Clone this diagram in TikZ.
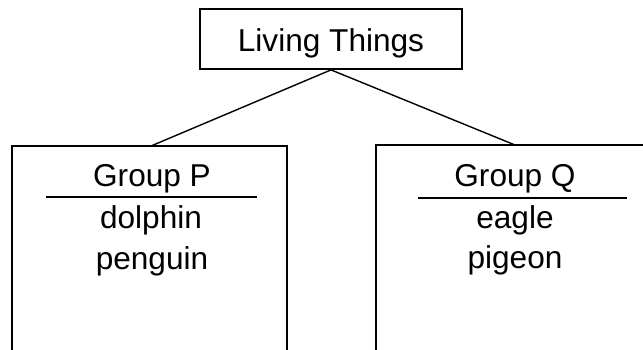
\documentclass[tikz,border=0pt]{standalone}
\usepackage{fontspec}
\setmainfont{Liberation Sans}
\begin{document}
\begin{tikzpicture}[x=1pt,y=-1pt,
  boxframe/.style={draw=black,line width=1.8pt,inner sep=0pt},
  label/.style={anchor=base,inner sep=0pt,font=\fontsize{31.6}{38}\selectfont},
  conn/.style={draw=black,line width=1.4pt},
  rule/.style={draw=black,line width=1.4pt}]
\useasboundingbox (0,0) rectangle (643,350);
% boxes
\node[boxframe,minimum width=262pt,minimum height=60pt] (top) at (331,39) {};
\node[boxframe,minimum width=275pt,minimum height=224pt] (lbox) at (149.5,258) {};
\node[boxframe,minimum width=278pt,minimum height=225pt] (rbox) at (515,257.5) {};
% texts
\node[label] (lt) at (331,52) {Living Things};
\node[label] (gp) at (152,187) {Group P};
\node[label] (dol) at (151,229) {dolphin};
\node[label] (pen) at (152,269) {penguin};
\node[label] (gq) at (515,187) {Group Q};
\node[label] (eag) at (515,229) {eagle};
\node[label] (pig) at (515,268) {pigeon};
% connectors
\coordinate (pl) at (151,146);
\coordinate (pr) at (515,145);
\draw[conn] (top.south) -- (pl);
\draw[conn] (top.south) -- (pr);
% underlines
\coordinate (ulpa) at (46,197);
\coordinate (ulpb) at (257,197);
\coordinate (ulqa) at (418,198);
\coordinate (ulqb) at (627,198);
\draw[rule] (ulpa) -- (ulpb);
\draw[rule] (ulqa) -- (ulqb);
\end{tikzpicture}
\end{document}
